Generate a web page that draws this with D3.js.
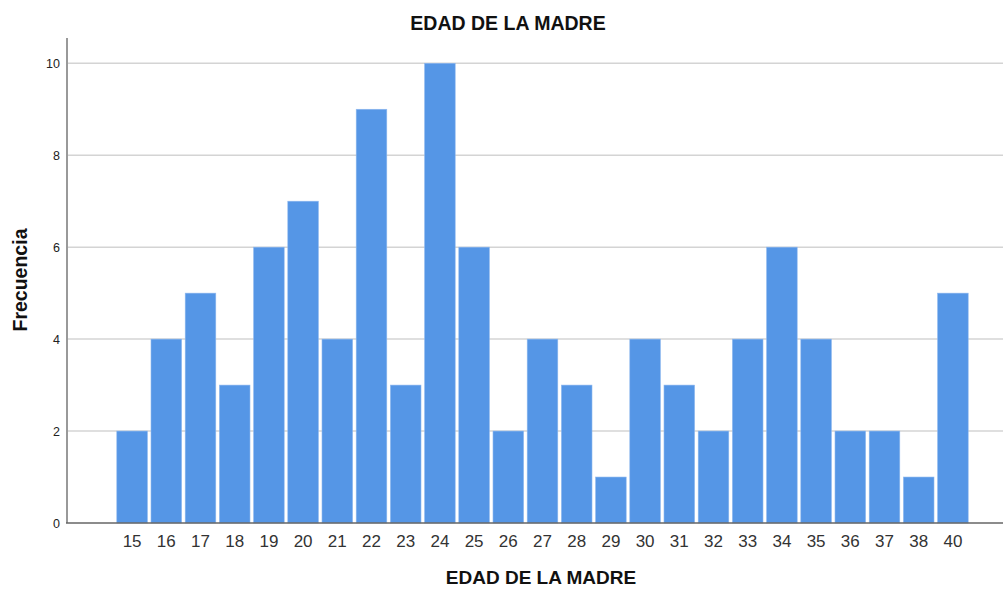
<!DOCTYPE html>
<html>
<head>
<meta charset="utf-8">
<script src="https://cdn.jsdelivr.net/npm/d3@7"></script>
<style>
  body { margin: 0; background: #fff; }
  text { font-family: "Liberation Sans", Arial, sans-serif; }
</style>
</head>
<body>
<div id="chart"></div>
<script>
const ages = ["15","16","17","18","19","20","21","22","23","24","25","26","27","28","29","30","31","32","33","34","35","36","37","38","40"];
const counts = [2,4,5,3,6,7,4,9,3,10,6,2,4,3,1,4,3,2,4,6,4,2,2,1,5];
const yTicks = [0,2,4,6,8,10];

const W = 1003, H = 589;
const plot = { left: 67, right: 1003, top: 38, bottom: 523 };

const svg = d3.select("#chart").append("svg")
  .attr("width", W)
  .attr("height", H);

const x = d3.scaleBand()
  .domain(ages)
  .range([115, 970])
  .paddingInner(0.105)
  .paddingOuter(0.0525);

const y = d3.scaleLinear()
  .domain([0, 10.55])
  .range([plot.bottom, plot.top]);

// gridlines
svg.append("g")
  .selectAll("line")
  .data(yTicks.filter(d => d > 0))
  .enter()
  .append("line")
  .attr("x1", plot.left)
  .attr("x2", plot.right)
  .attr("y1", d => y(d))
  .attr("y2", d => y(d))
  .style("stroke", "#d4d4d4")
  .style("stroke-width", 1.5);

// bars
svg.append("g")
  .selectAll("rect")
  .data(ages)
  .enter()
  .append("rect")
  .attr("x", d => x(d))
  .attr("y", (d, i) => y(counts[i]))
  .attr("width", x.bandwidth())
  .attr("height", (d, i) => y(0) - y(counts[i]))
  .style("fill", "#5596e6")
  .style("stroke", "#8fb8ee")
  .style("stroke-width", 0.6);

// y axis
const yAxis = svg.append("g")
  .attr("transform", "translate(" + plot.left + ",0)")
  .call(d3.axisLeft(y).tickValues(yTicks).tickSize(0).tickPadding(7));
yAxis.select(".domain").remove();
yAxis.selectAll("text")
  .style("font-size", "12.5px")
  .style("fill", "#222")
  .style("font-family", "'Liberation Sans', Arial, sans-serif");
svg.append("line")
  .attr("x1", plot.left).attr("x2", plot.left)
  .attr("y1", plot.top).attr("y2", plot.bottom)
  .style("stroke", "#999")
  .style("stroke-width", 2);

// x axis
const xAxis = svg.append("g")
  .attr("transform", "translate(0," + plot.bottom + ")")
  .call(d3.axisBottom(x).tickSize(0).tickPadding(12));
xAxis.select(".domain").remove();
xAxis.selectAll("text")
  .style("font-size", "17px")
  .style("fill", "#333")
  .style("font-family", "'Liberation Sans', Arial, sans-serif");
svg.append("line")
  .attr("x1", plot.left - 1).attr("x2", plot.right)
  .attr("y1", plot.bottom).attr("y2", plot.bottom)
  .style("stroke", "#666")
  .style("stroke-width", 1.5);

// titles
svg.append("text")
  .attr("text-anchor", "middle")
  .attr("x", 508)
  .attr("y", 29.5)
  .style("font-size", "19.5px")
  .style("font-weight", "bold")
  .style("fill", "#111")
  .text("EDAD DE LA MADRE");

svg.append("text")
  .attr("text-anchor", "middle")
  .attr("x", 541)
  .attr("y", 584)
  .style("font-size", "19px")
  .style("font-weight", "bold")
  .style("fill", "#111")
  .text("EDAD DE LA MADRE");

svg.append("text")
  .attr("text-anchor", "middle")
  .attr("transform", "translate(27,280) rotate(-90)")
  .style("font-size", "19.5px")
  .style("font-weight", "bold")
  .style("fill", "#111")
  .text("Frecuencia");
</script>
</body>
</html>
